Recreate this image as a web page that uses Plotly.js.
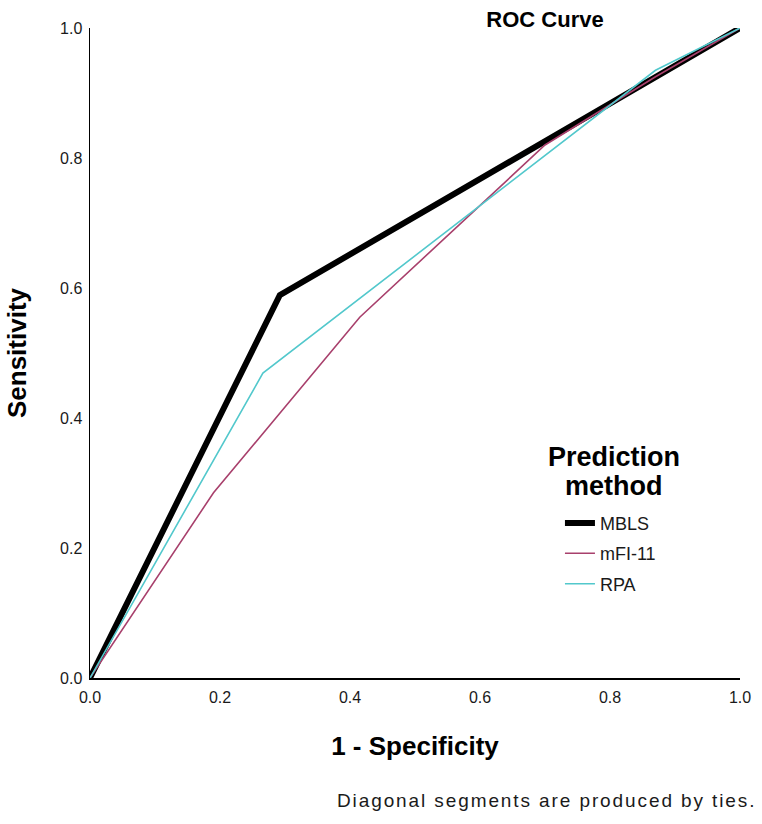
<!DOCTYPE html>
<html>
<head>
<meta charset="utf-8">
<script src="https://cdn.plot.ly/plotly-3.0.1.min.js"></script>
<style>
  html, body { margin: 0; padding: 0; background: #ffffff; }
  #chart { width: 762px; height: 824px; }
  /* the footnote is set loosely spaced */
  #chart .annotation.footnote text { letter-spacing: 1.9px; }
</style>
</head>
<body>
<div id="chart"></div>
<script>
// ROC curve points (1 - specificity, sensitivity) for each prediction method
const mblsFpr = [0, 0.292, 1];
const mblsTpr = [0, 0.589, 1];

const mfiFpr = [0, 0.19, 0.415, 0.70, 0.87, 1];
const mfiTpr = [0, 0.285, 0.555, 0.82, 0.925, 1];

const rpaFpr = [0, 0.266, 0.87, 1];
const rpaTpr = [0, 0.469, 0.935, 1];

const tickVals = [0, 0.2, 0.4, 0.6, 0.8, 1.0];
const tickText = ["0.0", "0.2", "0.4", "0.6", "0.8", "1.0"];

const fontFamily = "Liberation Sans, Arial, sans-serif";

const traces = [
  {
    x: mblsFpr, y: mblsTpr, name: "MBLS", mode: "lines", legendgroup: "a",
    line: { color: "#000000", width: 6 }
  },
  {
    x: mfiFpr, y: mfiTpr, name: "mFI-11", mode: "lines", legendgroup: "b",
    line: { color: "#a8406c", width: 1.6 }
  },
  {
    x: rpaFpr, y: rpaTpr, name: "RPA", mode: "lines", legendgroup: "c",
    line: { color: "#52c8cc", width: 1.6 }
  }
];

const layout = {
  width: 762,
  height: 824,
  paper_bgcolor: "#ffffff",
  plot_bgcolor: "#ffffff",
  font: { family: fontFamily, color: "#000000", size: 14 },
  margin: { l: 90, r: 22, t: 28, b: 146 },
  title: {
    text: "<b>ROC Curve</b>",
    font: { family: fontFamily, size: 22, color: "#000000" },
    xref: "paper", x: 0.700, xanchor: "center",
    yref: "container", y: 1 - 19 / 824, yanchor: "middle"
  },
  xaxis: {
    range: [0, 1],
    tickvals: tickVals, ticktext: tickText,
    showgrid: false, zeroline: false,
    showline: true, linecolor: "#000000", linewidth: 1.5,
    ticks: "", ticklen: 0, ticklabelstandoff: 4,
    tickfont: { family: fontFamily, size: 16, color: "#1a1a1a" },
    title: {
      text: "<b>1 - Specificity</b>",
      font: { family: fontFamily, size: 26, color: "#000000" },
      standoff: 32
    }
  },
  yaxis: {
    range: [0, 1],
    tickvals: tickVals, ticktext: tickText,
    showgrid: false, zeroline: false,
    showline: true, linecolor: "#000000", linewidth: 1.5,
    ticks: "", ticklen: 0, ticklabelstandoff: 3,
    tickfont: { family: fontFamily, size: 16, color: "#1a1a1a" },
    title: {
      text: "<b>Sensitivity</b>",
      font: { family: fontFamily, size: 26, color: "#000000" },
      standoff: 26
    }
  },
  showlegend: true,
  legend: {
    x: 0.723, xanchor: "left",
    y: 0.2666, yanchor: "top",
    bgcolor: "rgba(0,0,0,0)",
    traceorder: "grouped",
    tracegroupgap: 4,
    font: { family: fontFamily, size: 18, color: "#1a1a1a" },
    itemwidth: 30
  },
  annotations: [
    {
      text: "<b>Prediction</b>",
      xref: "paper", yref: "paper",
      x: (614 - 90) / 650, y: (678 - 457) / 650, xanchor: "center", yanchor: "middle",
      showarrow: false,
      font: { family: fontFamily, size: 27, color: "#000000" }
    },
    {
      text: "<b>method</b>",
      xref: "paper", yref: "paper",
      x: (614 - 90) / 650, y: (678 - 486) / 650, xanchor: "center", yanchor: "middle",
      showarrow: false,
      font: { family: fontFamily, size: 27, color: "#000000" }
    },
    {
      text: "Diagonal segments are produced by ties.",
      xref: "paper", yref: "paper",
      x: (546.5 - 90) / 650, y: -0.188, xanchor: "center", yanchor: "middle",
      showarrow: false,
      font: { family: fontFamily, size: 19, color: "#1a1a1a" }
    }
  ]
};

Plotly.newPlot("chart", traces, layout, { displayModeBar: false, staticPlot: true }).then(function (gd) {
  // tag the footnote annotation so the stylesheet can space its letters
  gd.querySelectorAll(".annotation").forEach(function (node) {
    if (node.textContent.indexOf("Diagonal") === 0) node.classList.add("footnote");
  });
});
</script>
</body>
</html>
